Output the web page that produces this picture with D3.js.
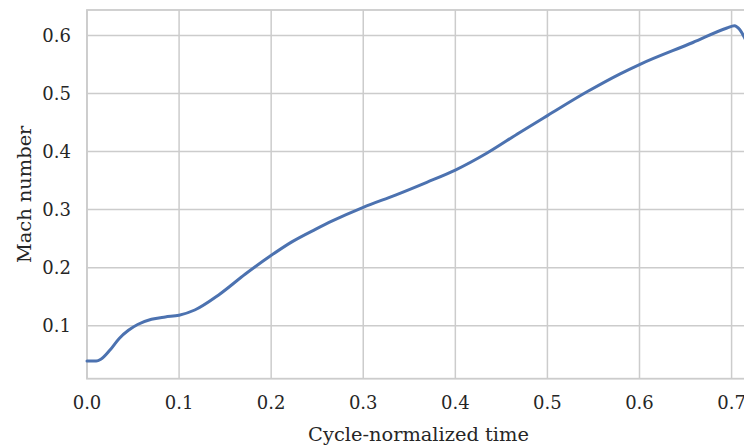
<!DOCTYPE html>
<html>
<head>
<meta charset="utf-8">
<script src="https://cdn.jsdelivr.net/npm/d3@7"></script>
<style>
  body { margin: 0; background: #fff; }
  svg { display: block; }
  text { font-family: "DejaVu Serif", serif; fill: #262626; }
</style>
</head>
<body>
<div id="chart"></div>
<script>
// cycle-normalized time vs mach number
var timeVals = [0, 0.01, 0.015, 0.025, 0.035, 0.045, 0.055, 0.07, 0.085, 0.1, 0.117, 0.143, 0.172, 0.199, 0.222, 0.248, 0.267, 0.3, 0.335, 0.369, 0.4, 0.434, 0.47, 0.5, 0.543, 0.579, 0.6, 0.658, 0.695, 0.703, 0.709, 0.716];
var machVals = [0.039, 0.039, 0.042, 0.058, 0.078, 0.092, 0.102, 0.111, 0.115, 0.118, 0.127, 0.153, 0.189, 0.220, 0.244, 0.266, 0.281, 0.304, 0.325, 0.347, 0.368, 0.397, 0.433, 0.462, 0.503, 0.534, 0.550, 0.588, 0.613, 0.617, 0.610, 0.590];
var xTicks = [0, 0.1, 0.2, 0.3, 0.4, 0.5, 0.6, 0.7];
var yTicks = [0.1, 0.2, 0.3, 0.4, 0.5, 0.6];

var W = 744, H = 446;
var margin = {left: 87, top: 10, right: -6, bottom: 67.3};
var w = W - margin.left - margin.right,
    h = H - margin.top - margin.bottom;

var svg = d3.select("#chart").append("svg")
    .attr("width", W).attr("height", H);

var g = svg.append("g")
    .attr("transform", "translate(" + margin.left + "," + margin.top + ")");

var x = d3.scaleLinear().domain([0, 0.72]).range([0, w]);
var y = d3.scaleLinear().domain([0.0086, 0.644]).range([h, 0]);

// grid
g.selectAll(".vgrid").data(xTicks).enter().append("line")
  .attr("x1", function(d){return x(d);}).attr("x2", function(d){return x(d);})
  .attr("y1", 0).attr("y2", h)
  .style("stroke", "#cccccc").style("stroke-width", "1.5px");
g.selectAll(".hgrid").data(yTicks).enter().append("line")
  .attr("x1", 0).attr("x2", w)
  .attr("y1", function(d){return y(d);}).attr("y2", function(d){return y(d);})
  .style("stroke", "#cccccc").style("stroke-width", "1.5px");

// spines
g.append("rect")
  .attr("x", 0).attr("y", 0).attr("width", w).attr("height", h)
  .style("fill", "none").style("stroke", "#cccccc").style("stroke-width", "1.8px");

// curve
var line = d3.line()
  .x(function(d){return x(d[0]);})
  .y(function(d){return y(d[1]);})
  .curve(d3.curveMonotoneX);

g.append("path")
  .datum(timeVals.map(function(t, i){return [t, machVals[i]];}))
  .attr("d", line)
  .style("fill", "none")
  .style("stroke", "#4c72b0")
  .style("stroke-width", "3px")
  .style("stroke-linecap", "round");

// tick labels
g.selectAll(".xtick").data(xTicks).enter().append("text")
  .attr("x", function(d){return x(d);})
  .attr("y", h + 30)
  .attr("text-anchor", "middle")
  .style("font-size", "18px")
  .text(d3.format(".1f"));

g.selectAll(".ytick").data(yTicks).enter().append("text")
  .attr("x", -16)
  .attr("y", function(d){return y(d);})
  .attr("dy", "0.36em")
  .attr("text-anchor", "end")
  .style("font-size", "18px")
  .text(d3.format(".1f"));

// axis labels
svg.append("text")
  .attr("x", margin.left + w / 2)
  .attr("y", 441)
  .attr("text-anchor", "middle")
  .style("font-size", "19.4px")
  .text("Cycle-normalized time");

svg.append("text")
  .attr("transform", "translate(31," + (margin.top + h / 2) + ") rotate(-90)")
  .attr("text-anchor", "middle")
  .style("font-size", "19.4px")
  .text("Mach number");
</script>
</body>
</html>
